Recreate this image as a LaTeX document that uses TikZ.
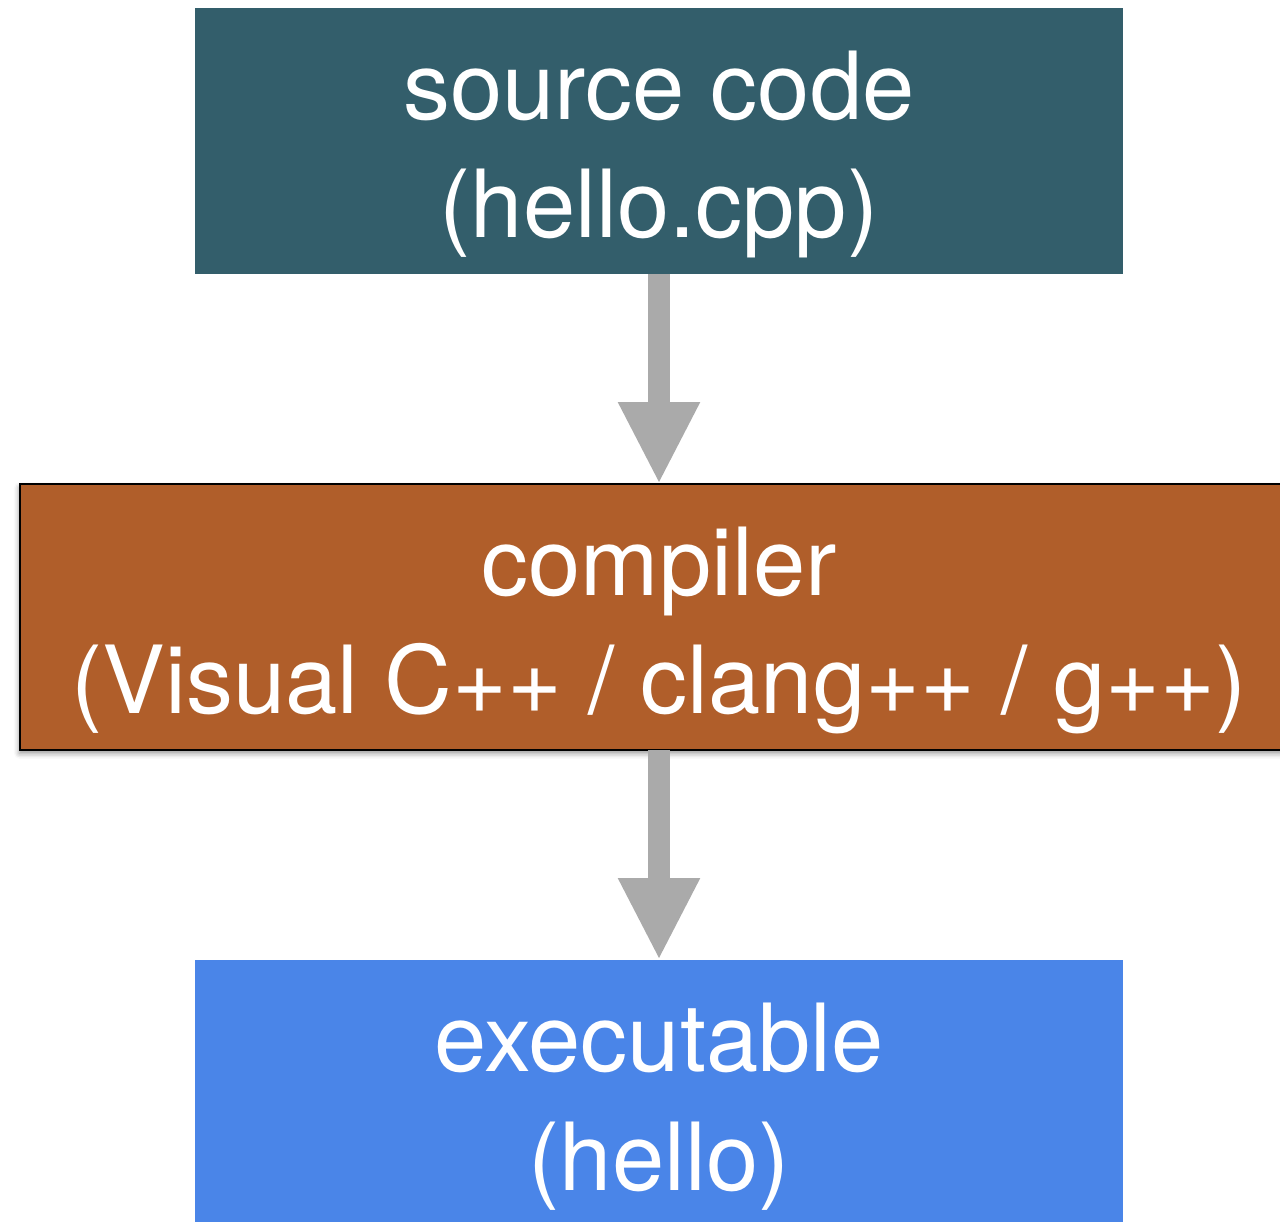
\documentclass[tikz,border=0pt]{standalone}
\usepackage{fontspec}
\setmainfont{TeX Gyre Heros}
\usetikzlibrary{arrows.meta, shadows.blur}

\definecolor{srcteal}{RGB}{51,94,107}
\definecolor{cmporange}{RGB}{176,94,42}
\definecolor{exeblue}{RGB}{74,133,232}
\definecolor{flowgray}{RGB}{170,170,170}

\begin{document}
\begin{tikzpicture}[
    x=0.02cm, y=-0.02cm,
    box/.style={rectangle, inner sep=0pt, outer sep=0pt, align=center,
                text=white, minimum height=5.32cm,
                text height=4.28cm, text depth=0.4cm,
                font=\fontsize{53.5}{67.2}\selectfont},
    flow/.style={flowgray, line width=0.44cm,
                 -{Triangle[length=1.64cm, width=1.52cm]}}
]

\useasboundingbox (0,0) rectangle (1280,1221);

% ---------- boxes ----------
\node[box, fill=srcteal, minimum width=18.56cm] (src) at (659,141)
      {source code\\(hello.cpp)};
\node[box, fill=cmporange, draw=black, line width=1.2pt,
      minimum width=25.56cm,
      blur shadow={shadow xshift=-0.5pt, shadow yshift=-2pt,
                   shadow blur radius=3pt, shadow opacity=40}] (cmp) at (659,617)
      {compiler\\(Visual C++ / clang++ / g++)};
\node[box, fill=exeblue, minimum width=18.56cm] (exe) at (659,1093)
      {executable\\(hello)};

% ---------- arrows ----------
\draw[flow] (src) -- (cmp);
\draw[flow] (cmp) -- (exe);

\end{tikzpicture}
\end{document}
